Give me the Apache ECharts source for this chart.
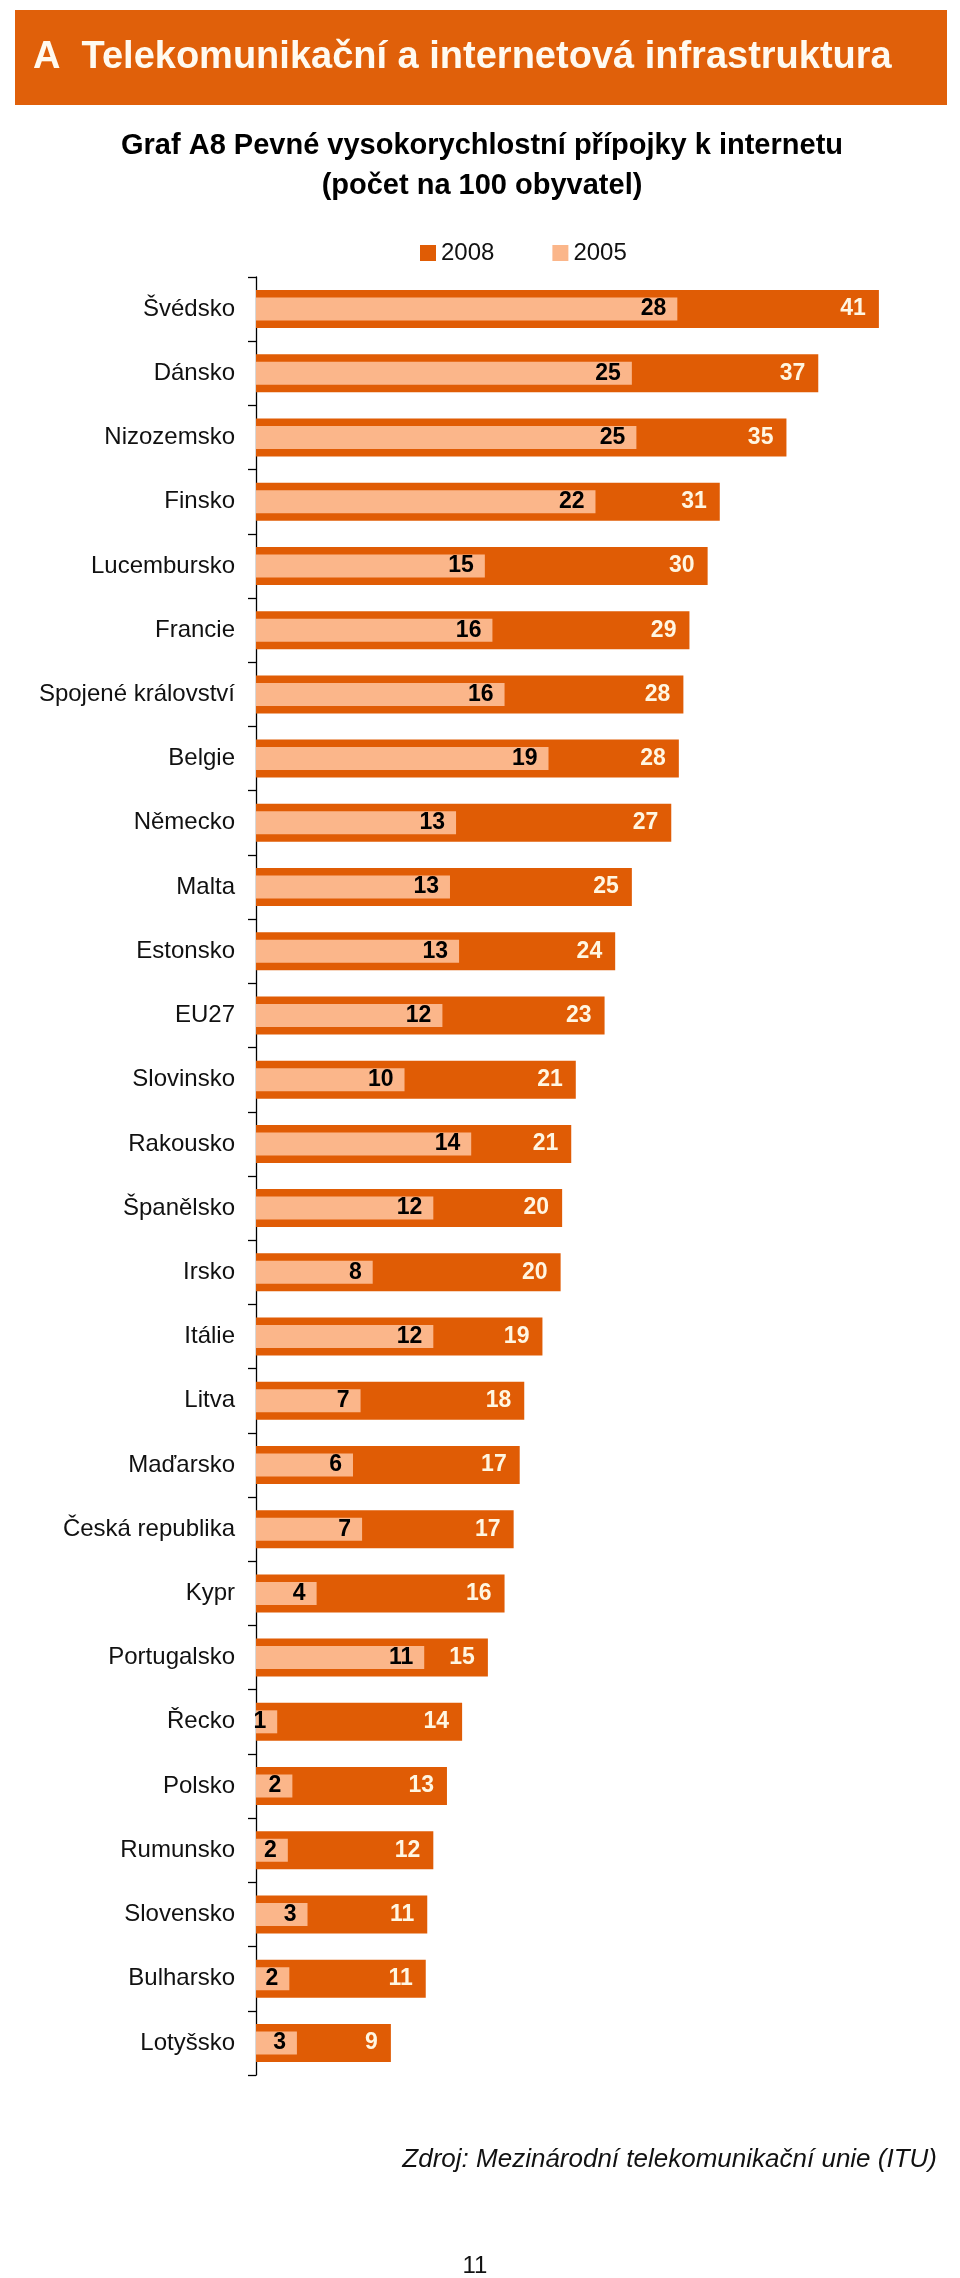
<!DOCTYPE html>
<html><head><meta charset="utf-8">
<script src="https://cdn.jsdelivr.net/npm/echarts@6/dist/echarts.min.js"></script>
<style>html,body{margin:0;padding:0;background:#fff}#c{width:960px;height:2278px}</style>
</head><body><div id="c"></div>
<script>
const categories = ['Švédsko','Dánsko','Nizozemsko','Finsko','Lucembursko','Francie','Spojené království','Belgie','Německo','Malta','Estonsko','EU27','Slovinsko','Rakousko','Španělsko','Irsko','Itálie','Litva','Maďarsko','Česká republika','Kypr','Portugalsko','Řecko','Polsko','Rumunsko','Slovensko','Bulharsko','Lotyšsko'];
const values2008 = [41.1,37.1,35.0,30.6,29.8,28.6,28.2,27.9,27.4,24.8,23.7,23.0,21.1,20.8,20.2,20.1,18.9,17.7,17.4,17.0,16.4,15.3,13.6,12.6,11.7,11.3,11.2,8.9];
const values2005 = [27.8,24.8,25.1,22.4,15.1,15.6,16.4,19.3,13.2,12.8,13.4,12.3,9.8,14.2,11.7,7.7,11.7,6.9,6.4,7.0,4.0,11.1,1.4,2.4,2.1,3.4,2.2,2.7];
const seriesNames = ['2008','2005'];
const headerText = 'A  Telekomunikační a internetová infrastruktura';
const titleLines = ['Graf A8 Pevné vysokorychlostní přípojky k internetu','(počet na 100 obyvatel)'];
const sourceText = 'Zdroj: Mezinárodní telekomunikační unie (ITU)';
const pageNumber = '11';

const FONT = '"Liberation Sans", Arial, sans-serif';
const DARK = '#E05C05';
const LIGHT = '#FBB68A';

const chart = echarts.init(document.getElementById('c'));
const yAxisBase = {
  type: 'category', data: categories, inverse: true,
  axisLine: {show: true, lineStyle: {color: '#000', width: 1.3}},
  axisTick: {show: true, length: 8, lineStyle: {color: '#000', width: 1.3}},
  axisLabel: {fontFamily: FONT, fontSize: 24, color: '#111', margin: 21},
  splitLine: {show: false}
};
chart.setOption({
  animation: false,
  backgroundColor: '#fff',
  textStyle: {fontFamily: FONT},
  graphic: [
    {type: 'rect', shape: {x: 15, y: 10, width: 932, height: 95}, style: {fill: '#E0600A'}},
    {type: 'text', x: 33, y: 58, style: {text: headerText, font: 'bold 38px ' + FONT, fill: '#FFFAF0', textVerticalAlign: 'middle'}},
    {type: 'text', x: 482, y: 146, style: {text: titleLines[0], font: 'bold 29px ' + FONT, fill: '#000', textAlign: 'center', textVerticalAlign: 'middle'}},
    {type: 'text', x: 482, y: 186, style: {text: titleLines[1], font: 'bold 29px ' + FONT, fill: '#000', textAlign: 'center', textVerticalAlign: 'middle'}},
    {type: 'text', x: 937, y: 2160, style: {text: sourceText, font: 'italic 26px ' + FONT, fill: '#111', textAlign: 'right', textVerticalAlign: 'middle'}},
    {type: 'text', x: 475, y: 2266, style: {text: pageNumber, font: '24px ' + FONT, fill: '#111', textAlign: 'center', textVerticalAlign: 'middle'}}
  ],
  legend: {
    data: seriesNames, left: 415, top: 236, icon: 'rect', itemWidth: 16, itemHeight: 16, itemGap: 58,
    textStyle: {fontFamily: FONT, fontSize: 24, color: '#111', padding: [0, 0, 0, 0]}
  },
  grid: {left: 256, right: 22, top: 277, bottom: 203, containLabel: false},
  xAxis: {type: 'value', min: 0, max: 45, show: false, splitLine: {show: false}},
  yAxis: [
    yAxisBase,
    Object.assign({}, yAxisBase, {show: false})
  ],
  series: [
    {
      name: seriesNames[0], type: 'bar', data: values2008, yAxisIndex: 0, barWidth: 38,
      itemStyle: {color: DARK},
      label: {show: true, position: 'insideRight', distance: 13, fontFamily: FONT, fontSize: 23, fontWeight: 'bold', color: '#FFF6E2',
        formatter: p => Math.round(p.value)}
    },
    {
      name: seriesNames[1], type: 'bar', data: values2005, yAxisIndex: 1, barWidth: 23,
      itemStyle: {color: LIGHT},
      label: {show: true, position: 'insideRight', distance: 11, fontFamily: FONT, fontSize: 23, fontWeight: 'bold', color: '#000',
        formatter: p => Math.round(p.value)}
    }
  ]
});
</script></body></html>
